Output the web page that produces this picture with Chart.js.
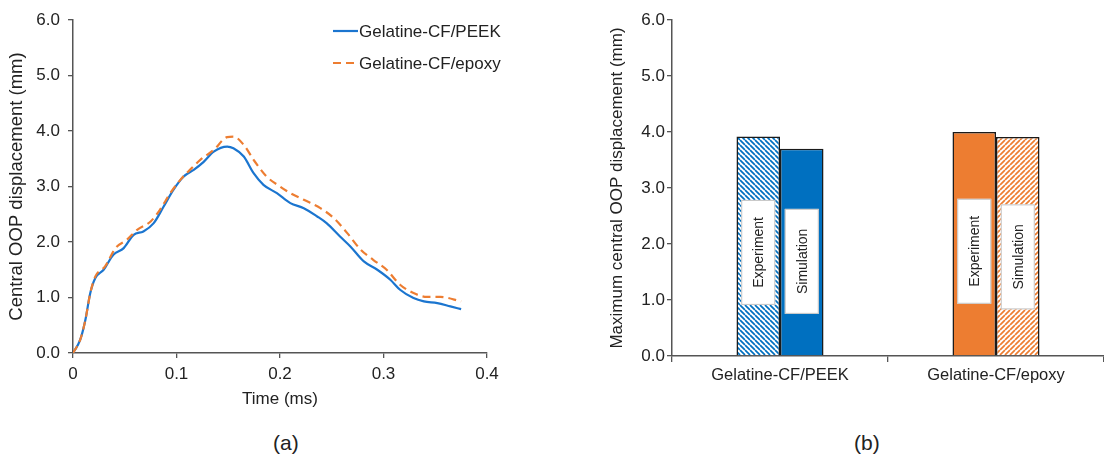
<!DOCTYPE html>
<html>
<head>
<meta charset="utf-8">
<script src="https://cdn.jsdelivr.net/npm/chart.js@4.4.1/dist/chart.umd.min.js"></script>
<style>
html, body { margin: 0; padding: 0; background: #fff; }
body { width: 1104px; height: 458px; position: relative; overflow: hidden; font-family: "Liberation Sans", Arial, sans-serif; }
#ca { position: absolute; left: 0; top: 0; }
#cb { position: absolute; left: 560px; top: 0; }
.cap { position: absolute; top: 431px; font-size: 21px; line-height: 24px; color: #222; }
</style>
</head>
<body>
<canvas id="ca" width="540" height="420"></canvas>
<canvas id="cb" width="544" height="420"></canvas>
<div class="cap" style="left:273px">(a)</div>
<div class="cap" style="left:854px">(b)</div>
<script>
// (a) time histories
const peekTime = [0, 0.007, 0.012, 0.0167, 0.0216, 0.0296, 0.039, 0.049, 0.0586, 0.068, 0.078, 0.0876, 0.097, 0.107, 0.1166, 0.126, 0.136, 0.149, 0.155, 0.165, 0.1745, 0.184, 0.197, 0.21, 0.223, 0.236, 0.245, 0.258, 0.268, 0.281, 0.294, 0.3066, 0.316, 0.329, 0.339, 0.352, 0.3646, 0.375];
const peekDisp = [0, 0.24, 0.6, 1.08, 1.35, 1.5, 1.77, 1.89, 2.13, 2.19, 2.34, 2.64, 2.94, 3.18, 3.3, 3.44, 3.63, 3.72, 3.69, 3.54, 3.24, 3.03, 2.88, 2.7, 2.61, 2.46, 2.34, 2.1, 1.92, 1.65, 1.5, 1.32, 1.14, 0.99, 0.93, 0.9, 0.84, 0.79];
const epoxyTime = [0, 0.007, 0.012, 0.0167, 0.0216, 0.031, 0.041, 0.052, 0.062, 0.075, 0.084, 0.094, 0.1037, 0.113, 0.123, 0.136, 0.149, 0.155, 0.165, 0.1745, 0.187, 0.2, 0.21, 0.223, 0.239, 0.252, 0.265, 0.278, 0.29, 0.303, 0.316, 0.329, 0.342, 0.355, 0.375];
const epoxyDisp = [0, 0.24, 0.6, 1.08, 1.38, 1.56, 1.89, 2.04, 2.22, 2.37, 2.58, 2.88, 3.12, 3.3, 3.48, 3.66, 3.89, 3.9, 3.75, 3.48, 3.18, 3.0, 2.88, 2.76, 2.61, 2.43, 2.16, 1.86, 1.68, 1.5, 1.23, 1.08, 1.01, 1.01, 0.93];

// (b) maximum displacement
const materials = ['Gelatine-CF/PEEK', 'Gelatine-CF/epoxy'];
const experimentMax = [3.92, 4.0];
const simulationMax = [3.70, 3.91];

const BLUE = '#0070c0';
const BLUE_LINE = '#1b75cf';
const ORANGE = '#ed7d31';
const AXIS = '#555';
const TEXT = '#222';
const FONT = '"Liberation Sans", Arial, sans-serif';
Chart.defaults.font.family = FONT;
Chart.defaults.color = TEXT;

// diagonal hatch on white; dir 1 = "/", -1 = "\"
function hatch(color, dir) {
    const s = 5;
    const c = document.createElement('canvas');
    c.width = c.height = s;
    const g = c.getContext('2d');
    g.fillStyle = '#fff';
    g.fillRect(0, 0, s, s);
    g.strokeStyle = color;
    g.lineWidth = 1.7;
    g.beginPath();
    for (let k = -1; k <= 1; k++) {
        if (dir > 0) { g.moveTo(k * s, s); g.lineTo(k * s + s, 0); }
        else { g.moveTo(k * s, 0); g.lineTo(k * s + s, s); }
    }
    g.stroke();
    return g.createPattern(c, 'repeat');
}

const lineLegend = {
    id: 'lineLegend',
    afterDraw(chart, args, opts) {
        const ctx = chart.ctx;
        ctx.save();
        chart.data.datasets.forEach((ds, i) => {
            const y = opts.y + i * opts.gap;
            ctx.strokeStyle = ds.borderColor;
            ctx.lineWidth = ds.borderWidth;
            ctx.setLineDash(ds.borderDash || []);
            ctx.beginPath();
            ctx.moveTo(opts.x, y);
            ctx.lineTo(opts.x + 25, y);
            ctx.stroke();
            ctx.setLineDash([]);
            ctx.fillStyle = TEXT;
            ctx.font = '17px ' + FONT;
            ctx.textBaseline = 'middle';
            ctx.fillText(ds.label, opts.x + 26, y + 1);
        });
        ctx.restore();
    }
};

const barTags = {
    id: 'barTags',
    afterDatasetsDraw(chart, args, opts) {
        const ctx = chart.ctx;
        const ys = chart.scales.y;
        ctx.save();
        chart.data.datasets.forEach((ds, di) => {
            chart.getDatasetMeta(di).data.forEach((bar, i) => {
                const cy = ys.getPixelForValue(opts.mid[di][i]);
                const w = 34, h = 105;
                ctx.fillStyle = '#fff';
                ctx.fillRect(bar.x - w / 2, cy - h / 2, w, h);
                ctx.strokeStyle = '#c4c4c4';
                ctx.lineWidth = 1;
                ctx.strokeRect(bar.x - w / 2 + 0.5, cy - h / 2 + 0.5, w - 1, h - 1);
                ctx.translate(bar.x, cy);
                ctx.rotate(-Math.PI / 2);
                ctx.fillStyle = TEXT;
                ctx.font = '14px ' + FONT;
                ctx.textAlign = 'center';
                ctx.textBaseline = 'middle';
                ctx.fillText(ds.label, 0, 1);
                ctx.setTransform(1, 0, 0, 1, 0, 0);
            });
        });
        ctx.restore();
    }
};

new Chart(document.getElementById('ca'), {
    type: 'line',
    data: {
        datasets: [
            {
                label: 'Gelatine-CF/PEEK',
                data: peekTime.map((t, i) => ({ x: t, y: peekDisp[i] })),
                borderColor: BLUE_LINE, borderWidth: 2.2, pointRadius: 0,
                cubicInterpolationMode: 'monotone', order: 1,
            },
            {
                label: 'Gelatine-CF/epoxy',
                data: epoxyTime.map((t, i) => ({ x: t, y: epoxyDisp[i] })),
                borderColor: ORANGE, borderWidth: 2.2, borderDash: [8, 5], pointRadius: 0,
                cubicInterpolationMode: 'monotone', order: 0,
            },
        ],
    },
    options: {
        responsive: false, animation: false,
        layout: { padding: { top: 20, right: 53, bottom: 0, left: 0 } },
        plugins: {
            legend: { display: false }, tooltip: { enabled: false },
            lineLegend: { x: 333, y: 31, gap: 32 },
        },
        scales: {
            x: {
                type: 'linear', min: 0, max: 0.4,
                afterFit: s => { s.height = 67; },
                ticks: { stepSize: 0.1, callback: v => v === 0 ? '0' : v.toFixed(1), font: { size: 17 }, padding: 6, color: TEXT },
                grid: { drawOnChartArea: false, tickLength: 5, color: AXIS, lineWidth: 1.3 },
                border: { color: AXIS, width: 1.5 },
                title: { display: true, text: 'Time (ms)', font: { size: 17 }, color: TEXT, padding: { top: 0, bottom: 10 } },
            },
            y: {
                min: 0, max: 6,
                afterFit: s => { s.width = 73; },
                ticks: { stepSize: 1, callback: v => v.toFixed(1), font: { size: 17 }, padding: 8, color: TEXT },
                grid: { drawOnChartArea: false, tickLength: 5, color: AXIS, lineWidth: 1.3 },
                border: { color: AXIS, width: 1.5 },
                title: { display: true, text: 'Central OOP displacement (mm)', font: { size: 18.5 }, color: TEXT, padding: { top: 6, bottom: 0 } },
            },
        },
    },
    plugins: [lineLegend],
});

new Chart(document.getElementById('cb'), {
    type: 'bar',
    data: {
        labels: materials,
        datasets: [
            {
                label: 'Experiment', data: experimentMax,
                backgroundColor: [hatch(BLUE, -1), ORANGE],
                borderColor: '#1a1a1a', borderWidth: 1.5,
            },
            {
                label: 'Simulation', data: simulationMax,
                backgroundColor: [BLUE, hatch(ORANGE, 1)],
                borderColor: '#1a1a1a', borderWidth: 1.5,
            },
        ],
    },
    options: {
        responsive: false, animation: false,
        categoryPercentage: 0.403, barPercentage: 1,
        layout: { padding: { top: 20, right: 0, bottom: 0, left: 0 } },
        plugins: {
            legend: { display: false }, tooltip: { enabled: false },
            barTags: { mid: [[1.85, 1.87], [1.69, 1.77]] },
        },
        scales: {
            x: {
                afterFit: s => { s.height = 64; },
                ticks: { font: { size: 16.5 }, padding: 4, color: TEXT },
                grid: { drawOnChartArea: false, tickLength: 6, color: AXIS, lineWidth: 1.3, offset: true },
                border: { color: AXIS, width: 1.5 },
            },
            y: {
                min: 0, max: 6,
                afterFit: s => { s.width = 112; },
                ticks: { stepSize: 1, callback: v => v.toFixed(1), font: { size: 17 }, padding: 2, color: TEXT },
                grid: { drawOnChartArea: false, tickLength: 5, color: AXIS, lineWidth: 1.3 },
                border: { color: AXIS, width: 1.5 },
                title: { display: true, text: 'Maximum central OOP displacement (mm)', font: { size: 17 }, color: TEXT, padding: { top: 47, bottom: 0 } },
            },
        },
    },
    plugins: [barTags],
});
</script>
</body>
</html>
